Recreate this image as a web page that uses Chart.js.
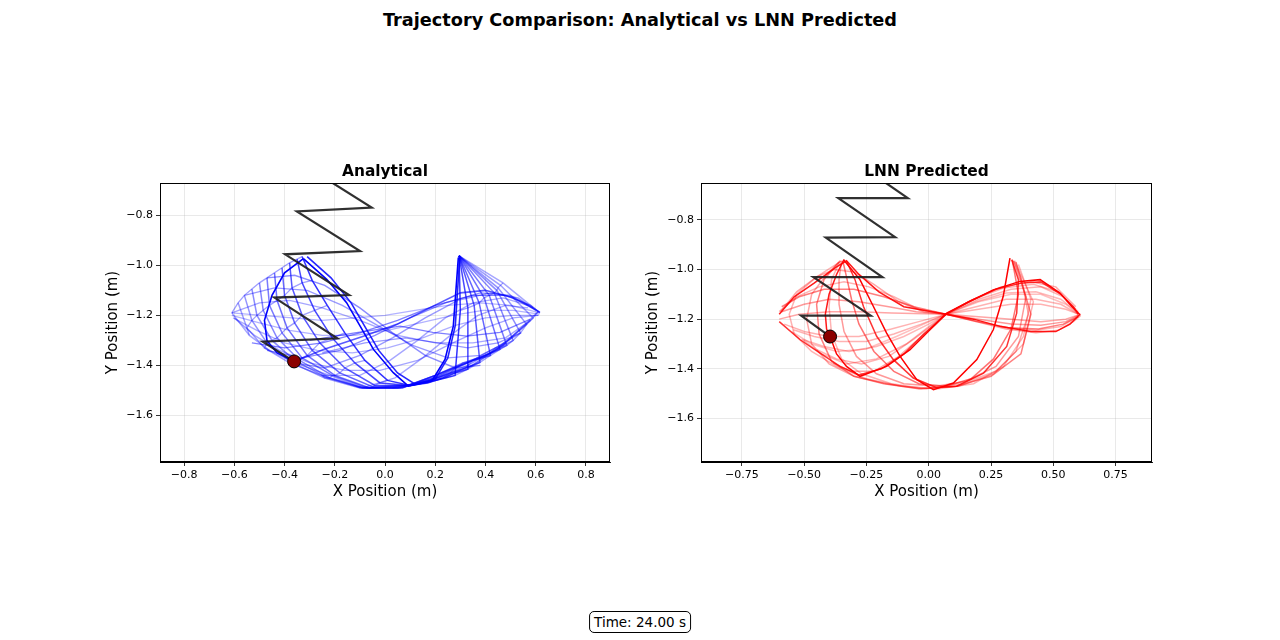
<!DOCTYPE html>
<html><head><meta charset="utf-8">
<script src="https://cdn.jsdelivr.net/npm/chart.js@4.4.1/dist/chart.umd.min.js"></script>
<style>
html,body{margin:0;padding:0;background:#fff;width:1280px;height:640px;overflow:hidden;font-family:"DejaVu Sans",sans-serif;}
#title{position:absolute;left:0;width:1280px;top:8px;text-align:center;font-weight:bold;font-size:17.7px;line-height:24px;color:#000;}
canvas{position:absolute;top:150px;}
#cL{left:90px;}
#cR{left:631px;}
#timebox{position:absolute;left:640px;transform:translateX(-50%);top:611px;border:1px solid #000;border-radius:5px;padding:1px 4px;font-size:13.5px;line-height:18px;background:#fff;white-space:nowrap;color:#000;}
</style></head>
<body>
<div id="title">Trajectory Comparison: Analytical vs LNN Predicted</div>
<canvas id="cL" width="590" height="360"></canvas>
<canvas id="cR" width="591" height="360"></canvas>
<div id="timebox">Time: 24.00 s</div>
<script>
// ---------- tick data ----------
const leftXTicks = [-0.8,-0.6,-0.4,-0.2,0.0,0.2,0.4,0.6,0.8];
const leftXLabels = ['−0.8','−0.6','−0.4','−0.2','0.0','0.2','0.4','0.6','0.8'];
const rightXTicks = [-0.75,-0.5,-0.25,0.0,0.25,0.5,0.75];
const rightXLabels = ['−0.75','−0.50','−0.25','0.00','0.25','0.50','0.75'];
const yTicks = [-0.8,-1.0,-1.2,-1.4,-1.6];
const yLabels = ['−0.8','−1.0','−1.2','−1.4','−1.6'];

// ---------- Analytical (left) ----------
const leftBob = [-0.362,-1.384];
const leftSpring = [[-0.305,-0.61],[-0.053,-0.769],[-0.351,-0.785],[-0.0995,-0.943],[-0.398,-0.956],[-0.143,-1.119],[-0.4405,-1.129],[-0.190,-1.292],[-0.487,-1.305],[-0.362,-1.384]];
const leftFlatRows = [
 [[-0.61,-1.19],[-0.49,-1.20],[-0.37,-1.21],[-0.25,-1.22],[-0.12,-1.21],[0.0,-1.20],[0.12,-1.18],[0.25,-1.16],[0.38,-1.15],[0.50,-1.16],[0.617,-1.19]],
 [[-0.61,-1.20],[-0.50,-1.23],[-0.38,-1.26],[-0.25,-1.28],[-0.12,-1.28],[0.01,-1.26],[0.14,-1.23],[0.27,-1.20],[0.39,-1.18],[0.51,-1.18],[0.615,-1.195]],
 [[-0.605,-1.21],[-0.51,-1.26],[-0.40,-1.31],[-0.27,-1.34],[-0.13,-1.35],[0.01,-1.33],[0.15,-1.29],[0.28,-1.24],[0.40,-1.21],[0.51,-1.20],[0.612,-1.20]],
 [[-0.60,-1.21],[-0.52,-1.28],[-0.42,-1.34],[-0.30,-1.39],[-0.16,-1.42],[-0.02,-1.42],[0.13,-1.38],[0.27,-1.31],[0.40,-1.25],[0.51,-1.21],[0.61,-1.20]]
];
const leftFlatAlpha = [0.3,0.3,0.32,0.35];
const leftRows = [
 [[-0.61,-1.19],[-0.54,-1.28],[-0.46,-1.34],[-0.36,-1.39],[-0.22,-1.44],[-0.09,-1.49],[0.05,-1.49],[0.19,-1.46],[0.35,-1.40],[0.48,-1.31],[0.61,-1.185],[0.47,-1.07],[0.295,-0.962]],
 [[-0.585,-1.15],[-0.55,-1.25],[-0.48,-1.33],[-0.38,-1.39],[-0.25,-1.44],[-0.11,-1.485],[0.03,-1.49],[0.18,-1.46],[0.33,-1.41],[0.47,-1.32],[0.59,-1.21],[0.46,-1.08],[0.295,-0.962]],
 [[-0.56,-1.12],[-0.53,-1.22],[-0.47,-1.31],[-0.37,-1.39],[-0.24,-1.45],[-0.10,-1.49],[0.05,-1.49],[0.19,-1.455],[0.33,-1.40],[0.45,-1.33],[0.564,-1.236],[0.45,-1.09],[0.295,-0.962]],
 [[-0.53,-1.095],[-0.51,-1.20],[-0.45,-1.30],[-0.36,-1.38],[-0.23,-1.45],[-0.09,-1.49],[0.06,-1.49],[0.20,-1.45],[0.33,-1.39],[0.44,-1.33],[0.54,-1.27],[0.445,-1.10],[0.295,-0.962]],
 [[-0.50,-1.07],[-0.485,-1.18],[-0.43,-1.29],[-0.34,-1.38],[-0.22,-1.45],[-0.08,-1.49],[0.07,-1.49],[0.20,-1.44],[0.32,-1.39],[0.42,-1.35],[0.51,-1.30],[0.435,-1.11],[0.295,-0.962]],
 [[-0.47,-1.05],[-0.46,-1.16],[-0.41,-1.27],[-0.33,-1.37],[-0.21,-1.44],[-0.07,-1.49],[0.08,-1.485],[0.20,-1.44],[0.31,-1.39],[0.40,-1.36],[0.485,-1.32],[0.415,-1.12],[0.295,-0.962]],
 [[-0.44,-1.03],[-0.43,-1.14],[-0.39,-1.25],[-0.31,-1.36],[-0.20,-1.44],[-0.06,-1.49],[0.09,-1.48],[0.20,-1.44],[0.30,-1.40],[0.38,-1.37],[0.458,-1.336],[0.395,-1.13],[0.295,-0.962]],
 [[-0.41,-1.01],[-0.40,-1.12],[-0.36,-1.23],[-0.29,-1.34],[-0.18,-1.43],[-0.05,-1.485],[0.09,-1.48],[0.19,-1.45],[0.28,-1.41],[0.35,-1.38],[0.42,-1.36],[0.375,-1.15],[0.295,-0.962]],
 [[-0.38,-0.99],[-0.37,-1.09],[-0.33,-1.20],[-0.26,-1.31],[-0.16,-1.41],[-0.04,-1.48],[0.10,-1.48],[0.18,-1.46],[0.26,-1.43],[0.32,-1.41],[0.378,-1.388],[0.355,-1.16],[0.295,-0.962]],
 [[-0.35,-0.975],[-0.33,-1.07],[-0.28,-1.18],[-0.21,-1.29],[-0.12,-1.39],[-0.02,-1.47],[0.10,-1.48],[0.17,-1.47],[0.23,-1.45],[0.28,-1.43],[0.33,-1.415],[0.33,-1.17],[0.295,-0.962]],
 [[-0.33,-0.965],[-0.29,-1.06],[-0.23,-1.16],[-0.16,-1.27],[-0.08,-1.38],[0.01,-1.46],[0.10,-1.48],[0.15,-1.47],[0.20,-1.46],[0.24,-1.45],[0.279,-1.44],[0.30,-1.18],[0.295,-0.962]]
];
const leftRowAlpha = [0.35,0.38,0.42,0.45,0.48,0.52,0.56,0.6,0.66,0.72,0.8];
const leftDiag = [
 [[-0.53,-1.31],[-0.40,-1.33],[-0.25,-1.31],[-0.10,-1.27],[0.05,-1.22],[0.20,-1.16],[0.35,-1.12],[0.48,-1.12],[0.58,-1.16],[0.617,-1.19]],
 [[-0.47,-1.34],[-0.33,-1.37],[-0.18,-1.34],[-0.04,-1.28],[0.10,-1.21],[0.24,-1.15],[0.38,-1.11],[0.50,-1.12],[0.59,-1.17]],
 [[-0.36,-1.39],[-0.24,-1.41],[-0.10,-1.36],[0.03,-1.29],[0.16,-1.21],[0.29,-1.14],[0.42,-1.11],[0.53,-1.13],[0.60,-1.18]],
 [[-0.22,-1.44],[-0.10,-1.44],[0.02,-1.38],[0.13,-1.30],[0.24,-1.21],[0.35,-1.15],[0.47,-1.13],[0.57,-1.16]],
 [[-0.09,-1.49],[0.04,-1.45],[0.15,-1.37],[0.26,-1.28],[0.37,-1.20],[0.48,-1.16],[0.57,-1.17]],
 [[-0.61,-1.19],[-0.50,-1.15],[-0.38,-1.14],[-0.25,-1.17],[-0.10,-1.22],[0.05,-1.28],[0.20,-1.31],[0.35,-1.31],[0.48,-1.29],[0.58,-1.22]],
 [[-0.56,-1.12],[-0.44,-1.09],[-0.31,-1.10],[-0.17,-1.16],[-0.03,-1.24],[0.11,-1.32],[0.25,-1.37],[0.38,-1.36],[0.48,-1.31]],
 [[-0.47,-1.05],[-0.36,-1.04],[-0.24,-1.08],[-0.10,-1.17],[0.03,-1.27],[0.16,-1.36],[0.28,-1.41],[0.38,-1.40]],
 [[-0.30,-1.30],[-0.12,-1.27],[0.06,-1.243],[0.19,-1.268],[0.325,-1.283],[0.458,-1.268],[0.577,-1.216]],
 [[-0.25,-1.35],[-0.08,-1.31],[0.08,-1.29],[0.21,-1.31],[0.33,-1.33],[0.45,-1.31],[0.54,-1.27]]
];
const leftDiagAlpha = [0.5,0.45,0.4,0.35,0.35,0.35,0.4,0.45,0.5,0.4];
const leftRecent = [
 [[-0.31,-0.965],[-0.215,-1.05],[-0.135,-1.15],[-0.08,-1.245],[-0.025,-1.34],[0.05,-1.43],[0.12,-1.475],[0.20,-1.455],[0.25,-1.37],[0.28,-1.24],[0.298,-0.962]],
 [[-0.325,-0.973],[-0.232,-1.056],[-0.153,-1.149],[-0.099,-1.243],[-0.046,-1.336],[0.033,-1.429],[0.093,-1.483],[0.186,-1.463],[0.239,-1.376],[0.272,-1.243],[0.292,-0.969]],
 [[-0.362,-1.384],[-0.245,-1.336],[-0.086,-1.283],[0.047,-1.236],[0.192,-1.163],[0.30,-1.11],[0.40,-1.10],[0.51,-1.13],[0.617,-1.187]],
 [[-0.325,-0.973],[-0.40,-1.03],[-0.45,-1.12],[-0.48,-1.22],[-0.47,-1.30],[-0.43,-1.35],[-0.362,-1.384]]
];
const leftRecentAlpha = [0.85,1.0,0.65,1.0];

// ---------- LNN Predicted (right) ----------
const rightBob = [-0.396,-1.27];
const rightSpring = [[-0.313,-0.554],[-0.084,-0.713],[-0.363,-0.713],[-0.135,-0.870],[-0.413,-0.872],[-0.186,-1.031],[-0.463,-1.031],[-0.233,-1.186],[-0.512,-1.186],[-0.396,-1.27]];
const rightBowtie = [
 [[-0.60,-1.18],[-0.54,-1.11],[-0.46,-1.055],[-0.37,-0.99],[-0.33,-0.965],[-0.28,-1.02],[-0.20,-1.09],[-0.10,-1.15],[0.07,-1.18],[0.18,-1.20],[0.29,-1.23],[0.41,-1.25],[0.51,-1.25],[0.567,-1.22],[0.607,-1.18]],
 [[-0.60,-1.21],[-0.516,-1.283],[-0.436,-1.337],[-0.356,-1.39],[-0.28,-1.425],[-0.19,-1.40],[-0.10,-1.34],[-0.02,-1.26],[0.07,-1.18],[0.16,-1.13],[0.27,-1.08],[0.37,-1.055],[0.45,-1.05],[0.53,-1.10],[0.58,-1.15],[0.60,-1.18]],
 [[-0.60,-1.20],[-0.52,-1.18],[-0.40,-1.17],[-0.28,-1.17],[-0.15,-1.175],[0.07,-1.18],[0.20,-1.19],[0.33,-1.20],[0.45,-1.21],[0.55,-1.20],[0.61,-1.18]],
 [[-0.58,-1.22],[-0.50,-1.25],[-0.40,-1.27],[-0.28,-1.27],[-0.15,-1.24],[-0.04,-1.21],[0.07,-1.18],[0.20,-1.16],[0.33,-1.14],[0.45,-1.14],[0.55,-1.16],[0.60,-1.18]],
 [[-0.55,-1.25],[-0.47,-1.30],[-0.37,-1.33],[-0.25,-1.32],[-0.13,-1.27],[-0.02,-1.22],[0.07,-1.18],[0.20,-1.13],[0.33,-1.10],[0.45,-1.10],[0.55,-1.14],[0.60,-1.18]],
 [[-0.51,-1.28],[-0.43,-1.34],[-0.33,-1.38],[-0.21,-1.36],[-0.09,-1.30],[0.0,-1.23],[0.07,-1.18],[0.20,-1.12],[0.33,-1.08],[0.45,-1.07],[0.54,-1.11],[0.60,-1.17]],
 [[-0.59,-1.15],[-0.52,-1.11],[-0.42,-1.08],[-0.30,-1.08],[-0.18,-1.11],[-0.06,-1.15],[0.07,-1.18],[0.20,-1.21],[0.32,-1.235],[0.44,-1.24],[0.54,-1.22],[0.60,-1.19]],
 [[-0.59,-1.17],[-0.50,-1.14],[-0.40,-1.12],[-0.28,-1.13],[-0.16,-1.15],[-0.05,-1.17],[0.07,-1.18],[0.20,-1.20],[0.33,-1.22],[0.45,-1.225],[0.55,-1.21],[0.60,-1.185]],
 [[-0.543,-1.243],[-0.46,-1.27],[-0.36,-1.29],[-0.25,-1.29],[-0.14,-1.26],[-0.03,-1.22],[0.07,-1.18],[0.19,-1.15],[0.31,-1.12],[0.43,-1.12],[0.53,-1.14],[0.60,-1.18]],
 [[-0.503,-1.283],[-0.42,-1.31],[-0.32,-1.33],[-0.21,-1.31],[-0.10,-1.27],[0.0,-1.22],[0.07,-1.18],[0.19,-1.13],[0.31,-1.095],[0.43,-1.09],[0.53,-1.12],[0.60,-1.175]],
 [[-0.449,-1.323],[-0.37,-1.36],[-0.27,-1.38],[-0.16,-1.35],[-0.06,-1.28],[0.02,-1.22],[0.07,-1.18],[0.18,-1.12],[0.30,-1.075],[0.42,-1.06],[0.52,-1.09],[0.59,-1.16]],
 [[-0.383,-1.377],[-0.31,-1.41],[-0.22,-1.41],[-0.12,-1.35],[-0.03,-1.27],[0.03,-1.22],[0.07,-1.18],[0.17,-1.125],[0.29,-1.07],[0.41,-1.05],[0.51,-1.07],[0.59,-1.15]],
 [[-0.595,-1.17],[-0.53,-1.09],[-0.45,-1.03],[-0.38,-1.00],[-0.30,-1.01],[-0.22,-1.06],[-0.12,-1.13],[-0.02,-1.17],[0.07,-1.18],[0.19,-1.21],[0.31,-1.24],[0.43,-1.255],[0.52,-1.245],[0.58,-1.21],[0.61,-1.185]],
 [[-0.60,-1.17],[-0.53,-1.11],[-0.44,-1.07],[-0.34,-1.05],[-0.24,-1.07],[-0.14,-1.11],[-0.04,-1.16],[0.07,-1.18],[0.19,-1.21],[0.31,-1.235],[0.43,-1.245],[0.53,-1.23],[0.60,-1.19]]
];
const rightBowtieAlpha = [0.9,0.8,0.35,0.3,0.25,0.3,0.5,0.4,0.3,0.28,0.3,0.35,0.35,0.3];
const rightU = [
 [[-0.35,-0.965],[-0.45,-1.03],[-0.53,-1.10],[-0.56,-1.18],[-0.54,-1.26],[-0.47,-1.33],[-0.37,-1.39],[-0.25,-1.44],[-0.11,-1.47],[0.04,-1.48],[0.18,-1.46],[0.30,-1.39],[0.38,-1.27],[0.41,-1.12],[0.36,-0.98]],
 [[-0.355,-0.965],[-0.41,-1.02],[-0.47,-1.10],[-0.49,-1.20],[-0.47,-1.30],[-0.40,-1.38],[-0.30,-1.43],[-0.17,-1.46],[-0.03,-1.48],[0.12,-1.47],[0.26,-1.42],[0.35,-1.33],[0.40,-1.18],[0.37,-1.03],[0.34,-0.965]],
 [[-0.36,-0.97],[-0.42,-1.04],[-0.45,-1.14],[-0.44,-1.26],[-0.39,-1.37],[-0.30,-1.43],[-0.18,-1.46],[-0.04,-1.48],[0.11,-1.47],[0.25,-1.43],[0.37,-1.34],[0.41,-1.18],[0.35,-0.97]],
 [[-0.355,-0.965],[-0.39,-1.04],[-0.40,-1.15],[-0.39,-1.26],[-0.35,-1.36],[-0.27,-1.42],[-0.15,-1.46],[-0.01,-1.48],[0.13,-1.46],[0.27,-1.41],[0.38,-1.30],[0.42,-1.13],[0.345,-0.965]],
 [[-0.35,-0.965],[-0.36,-1.04],[-0.36,-1.14],[-0.34,-1.25],[-0.29,-1.35],[-0.21,-1.42],[-0.10,-1.46],[0.03,-1.47],[0.15,-1.45],[0.27,-1.39],[0.36,-1.27],[0.39,-1.11],[0.34,-0.965]],
 [[-0.345,-0.965],[-0.33,-1.03],[-0.31,-1.12],[-0.28,-1.22],[-0.22,-1.33],[-0.14,-1.41],[-0.04,-1.46],[0.07,-1.47],[0.17,-1.44],[0.26,-1.36],[0.33,-1.24],[0.36,-1.10],[0.335,-0.96]],
 [[-0.329,-0.968],[-0.296,-1.041],[-0.262,-1.149],[-0.209,-1.269],[-0.142,-1.363],[-0.062,-1.437],[0.03,-1.475],[0.112,-1.47],[0.22,-1.417],[0.313,-1.31],[0.353,-1.176],[0.36,-1.041],[0.333,-0.961]],
 [[-0.342,-0.961],[-0.276,-1.041],[-0.222,-1.149],[-0.169,-1.256],[-0.115,-1.35],[-0.048,-1.444],[0.019,-1.484],[0.099,-1.457],[0.193,-1.363],[0.259,-1.243],[0.299,-1.108],[0.326,-0.954]],
 [[-0.396,-1.27],[-0.37,-1.34],[-0.33,-1.39],[-0.276,-1.43],[-0.169,-1.39],[-0.075,-1.323],[0.005,-1.243],[0.072,-1.176],[0.152,-1.135],[0.259,-1.082],[0.366,-1.048],[0.447,-1.041],[0.527,-1.095],[0.574,-1.149],[0.607,-1.182]],
 [[-0.34,-0.96],[-0.37,-1.02],[-0.40,-1.10],[-0.415,-1.18],[-0.41,-1.24],[-0.396,-1.27]]
];
const rightUAlpha = [0.3,0.35,0.5,0.3,0.4,0.55,0.8,1.0,1.0,0.9];

// ---------- helpers ----------
const FONT = 'DejaVu Sans';
function pts(a){ return a.map(p=>({x:p[0], y:p[1]})); }
function trail(a, rgb, alpha, w){
  return {data: pts(a), showLine:true, pointRadius:0, borderWidth:w||1.5,
    borderColor:`rgba(${rgb},${alpha})`, clip:0, order: 2 + (1-alpha)*10};
}
const framePlugin = {
  id:'frame',
  afterDraw(chart){
    const a = chart.chartArea, c = chart.ctx;
    c.save(); c.strokeStyle='#000'; c.lineWidth=1;
    c.strokeRect(Math.round(a.left)+0.5, Math.round(a.top)+0.5, Math.round(a.right-a.left)-1, Math.round(a.bottom-a.top)-1);
    const t = chart.options.plugins.panelTitle;
    c.fillStyle='#000'; c.font='bold 15.4px "DejaVu Sans"'; c.textAlign='center'; c.textBaseline='middle';
    c.fillText(t.text, (a.left+a.right)/2, a.top-11.5);
    c.restore();
  }
};
function build(id, o){
  const ds = [];
  ds.push({data: pts([o.bob]), pointRadius:6.5, pointBackgroundColor:'#8b0000', pointBorderColor:'#000', pointBorderWidth:1, showLine:false, order:0, clip:0});
  ds.push({data: pts(o.spring), showLine:true, pointRadius:0, borderWidth:2.2, borderColor:'rgba(25,25,25,0.9)', order:1, clip:0});
  o.groups.forEach(g=>{
    g.rows.forEach((r,i)=>ds.push(trail(r, o.rgb, g.alpha[i], g.width)));
  });
  new Chart(document.getElementById(id), {
    type:'scatter',
    data:{datasets:ds},
    plugins:[framePlugin],
    options:{
      responsive:false, animation:false, events:[],
      layout:{padding:{top:33,left:0,right:70,bottom:0}},
      plugins:{
        legend:{display:false}, tooltip:{enabled:false}, title:{display:false},
        panelTitle:{text:o.title}
      },
      scales:{
        x:{type:'linear', min:o.xr[0], max:o.xr[1],
          afterBuildTicks:s=>{ s.ticks = o.xTicks.map(v=>({value:v})); },
          afterFit:s=>{ s.height = 48; },
          ticks:{autoSkip:false, maxRotation:0, padding:3, color:'#000', font:{family:FONT,size:11}, callback:(v,i)=>o.xLabels[i]},
          grid:{color:'rgba(176,176,176,0.35)', lineWidth:0.8, drawTicks:true, tickLength:4, tickColor:'#000', tickWidth:0.8},
          border:{color:'#000', width:1},
          title:{display:true, text:'X Position (m)', color:'#000', font:{family:FONT,size:15,lineHeight:1.2}, padding:{top:0,bottom:9}}
        },
        y:{type:'linear', min:o.yr[0], max:o.yr[1],
          afterBuildTicks:s=>{ s.ticks = yTicks.map(v=>({value:v})); },
          afterFit:s=>{ s.width = 70; },
          ticks:{autoSkip:false, padding:3, color:'#000', font:{family:FONT,size:11}, callback:(v,i)=>yLabels[i]},
          grid:{color:'rgba(176,176,176,0.35)', lineWidth:0.8, drawTicks:true, tickLength:4, tickColor:'#000', tickWidth:0.8},
          border:{color:'#000', width:1},
          title:{display:true, text:'Y Position (m)', color:'#000', font:{family:FONT,size:15,lineHeight:1.2}, padding:{top:o.yTitlePad,bottom:0}}
        }
      }
    }
  });
}

// cross lines of the left mesh, connecting matching points of consecutive rows
const leftCross = [];
for (let k=0;k<leftRows[0].length-1;k++) leftCross.push(leftRows.map(r=>r[k]));
const leftCrossAlpha = leftCross.map(()=>0.38);

build('cL', {
  title:'Analytical', rgb:'0,0,255', bob:leftBob, spring:leftSpring,
  xr:[-0.896,0.896], yr:[-1.786,-0.671], xTicks:leftXTicks, xLabels:leftXLabels, yTitlePad:14,
  groups:[
    {rows:leftCross, alpha:leftCrossAlpha, width:1.3},
    {rows:leftFlatRows, alpha:leftFlatAlpha, width:1.4},
    {rows:leftRows, alpha:leftRowAlpha, width:1.5},
    {rows:leftDiag, alpha:leftDiagAlpha, width:1.4},
    {rows:leftRecent, alpha:leftRecentAlpha, width:1.6}
  ]
});
build('cR', {
  title:'LNN Predicted', rgb:'255,0,0', bob:rightBob, spring:rightSpring,
  xr:[-0.914,0.896], yr:[-1.775,-0.652], xTicks:rightXTicks, xLabels:rightXLabels, yTitlePad:13,
  groups:[
    {rows:rightBowtie, alpha:rightBowtieAlpha, width:1.5},
    {rows:rightU, alpha:rightUAlpha, width:1.5}
  ]
});
</script>
</body></html>
